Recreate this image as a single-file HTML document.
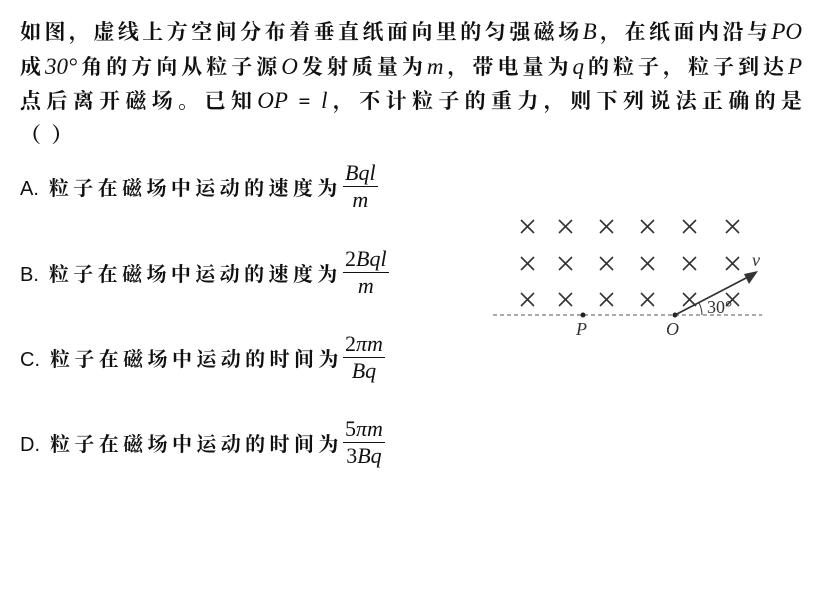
<!DOCTYPE html>
<html><head><meta charset="utf-8"><style>
body{margin:0;width:816px;height:614px;background:#fff;position:relative;font-family:"Liberation Serif","Noto Serif CJK SC",serif;color:#111;overflow:hidden}
.l{position:absolute;left:20px;width:782px;font-size:21px;line-height:24px;text-align:justify;text-align-last:justify;white-space:nowrap;font-weight:bold}
.l i{font-weight:normal;font-size:23px}
.o{position:absolute;left:20px;font-size:20px;font-weight:bold;letter-spacing:4.4px;font-family:"Liberation Sans","Noto Serif CJK SC",sans-serif}
.o b{font-family:"Liberation Sans",sans-serif;font-weight:normal;letter-spacing:0}
.f{position:absolute;left:343px;text-align:center;font-size:22px;font-style:italic;font-family:"Liberation Serif",serif;line-height:26px}
.f div:first-child{border-bottom:1.5px solid #111;padding:0 2px}
</style></head><body>
<div class="l" style="top:20px">如图，虚线上方空间分布着垂直纸面向里的匀强磁场<i>B</i>，在纸面内沿与<i>PO</i></div>
<div class="l" style="top:55px">成<i>30°</i>角的方向从粒子源<i>O</i>发射质量为<i>m</i>，带电量为<i>q</i>的粒子，粒子到达<i>P</i></div>
<div class="l" style="top:89px">点后离开磁场。已知<i>OP</i> = <i>l</i>，不计粒子的重力，则下列说法正确的是</div>
<div class="l" style="top:123px;width:auto;text-align-last:auto">（&nbsp;&nbsp;）</div>
<div class="o" style="top:172px"><b>A.</b> 粒子在磁场中运动的速度为</div>
<div class="f" style="top:160px"><div>Bql</div><div>m</div></div>
<div class="o" style="top:258px"><b>B.</b> 粒子在磁场中运动的速度为</div>
<div class="f" style="top:246px"><div><span style="font-style:normal">2</span>Bql</div><div>m</div></div>
<div class="o" style="top:343px"><b>C.</b> 粒子在磁场中运动的时间为</div>
<div class="f" style="top:331px"><div><span style="font-style:normal">2</span>πm</div><div>Bq</div></div>
<div class="o" style="top:428px"><b>D.</b> 粒子在磁场中运动的时间为</div>
<div class="f" style="top:416px"><div><span style="font-style:normal">5</span>πm</div><div><span style="font-style:normal">3</span>Bq</div></div>
<svg width="816" height="614" style="position:absolute;left:0;top:0">
<g stroke="#333" stroke-width="1.6">
<g id="r">
<path d="M521 220l13 13M534 220l-13 13 M559 220l13 13M572 220l-13 13 M600 220l13 13M613 220l-13 13 M641 220l13 13M654 220l-13 13 M683 220l13 13M696 220l-13 13 M726 220l13 13M739 220l-13 13"/>
</g>
<use href="#r" y="37"/><use href="#r" y="73"/>
</g>
<line x1="493" y1="315" x2="762" y2="315" stroke="#555" stroke-width="1" stroke-dasharray="4,3"/>
<circle cx="583" cy="315" r="2.5" fill="#222"/>
<circle cx="675" cy="315" r="2.5" fill="#222"/>
<line x1="675" y1="315" x2="748" y2="277" stroke="#333" stroke-width="1.8"/>
<polygon points="758,271 744,274 749,284" fill="#333"/>
<path d="M699 303 A26 26 0 0 1 702 315" fill="none" stroke="#333" stroke-width="1"/>
<g font-family="Liberation Serif,serif" font-size="18" fill="#333">
<text x="752" y="266" font-style="italic">v</text>
<text x="707" y="313">30°</text>
<text x="576" y="335" font-style="italic">P</text>
<text x="666" y="335" font-style="italic">O</text>
</g>
</svg>
</body></html>
